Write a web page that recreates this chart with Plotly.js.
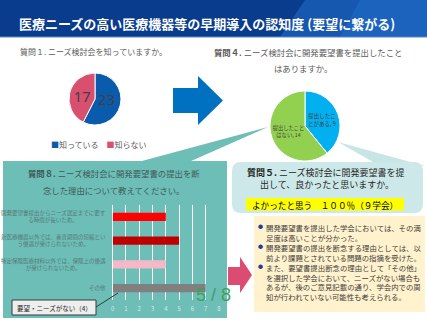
<!DOCTYPE html>
<html><head><meta charset="utf-8">
<script src="https://cdn.plot.ly/plotly-3.0.1.min.js"></script>
<style>html,body{margin:0;padding:0;background:#fff;}#chart{width:427px;height:320px;}</style>
</head><body><div id="chart"></div>
<script>
// ---- data ----
const slideTitle = '医療ニーズの高い医療機器等の早期導入の認知度 (要望に繋がる)';
const q1Title = '質問１. ニーズ検討会を知っていますか。';
const pie1Labels = ['知っている', '知らない'];
const pie1Values = [23, 17];
const pie1Colors = ['#0B5BAD', '#D94F70'];

const q4Title = ['<b>質問４.</b> ニーズ検討会に開発要望書を提出したこと', 'はありますか。'];
const pie2Labels = ['提出したことがある', '提出したことはない'];
const pie2Text = ['提出したこ<br>とがある', '提出したこと<br>はない'];
const pie2Values = [9, 14];
const pie2Colors = ['#00B0F0', '#92D050'];

const q8Title = ['<b>質問８.</b> ニーズ検討会に開発要望書の提出を断', '念した理由について教えてください。'];
const barCategories = ['時間', '審査', '保険', 'その他'];
const barLabels = [
  '開発要望書提出からニーズ選定までに要す<br>る時間が長いため。',
  '新医療機器以外では、審査期間の短縮とい<br>う優遇が受けられないため。',
  '特定保険医療材料以外では、保険上の優遇<br>が受けられないため。',
  'その他'
];
const barValues = [4, 5, 4, 7];
const barColors = ['#FF0000', '#C00000', '#F4B8C8', '#808080'];
const xTicks = [0, 1, 2, 3, 4, 5, 6, 7, 8];
const calloutText = '要望・ニーズがない（4）';

const q5Title = ['<b>質問５.</b> ニーズ検討会に開発要望書を提', '出して、良かったと思いますか。'];
const q5Answer = 'よかったと思う　１００％（９学会）';
const bullets = [
  '開発要望書を提出した学会においては、その満<br>足度は高いことが分かった。',
  '開発要望書の提出を断念する理由としては、以<br>前より課題とされている問題の指摘を受けた。',
  'また、要望書提出断念の理由として「その他」<br>を選択した学会において、ニーズがない場合も<br>あるが、後のご意見記載の通り、学会内での周<br>知が行われていない可能性も考えられる。'
];
const pageNo = '5 / 8';

// ---- helpers ----
const W = 427, H = 320;
const px = x => x / W;
const py = y => 1 - y / H;
const FONT = 'Noto Sans CJK JP';
function poly(pts, fill, extra) {
  const d = pts.map((p, i) => (i ? 'L' : 'M') + px(p[0]).toFixed(4) + ',' + py(p[1]).toFixed(4)).join(' ') + ' Z';
  return Object.assign({type: 'path', xref: 'paper', yref: 'paper', path: d, fillcolor: fill, line: {width: 0}, layer: 'below'}, extra || {});
}
function rect(x0, y0, x1, y1, fill, line, extra) {
  return Object.assign({type: 'rect', xref: 'paper', yref: 'paper', x0: px(x0), x1: px(x1), y0: py(y1), y1: py(y0),
    fillcolor: fill, line: line || {width: 0}, layer: 'below'}, extra || {});
}
function roundRect(x0, y0, x1, y1, r, fill) {
  const P = (x, y) => px(x).toFixed(4) + ',' + py(y).toFixed(4);
  const d = 'M' + P(x0 + r, y0) + ' L' + P(x1 - r, y0) + ' Q' + P(x1, y0) + ' ' + P(x1, y0 + r) +
    ' L' + P(x1, y1 - r) + ' Q' + P(x1, y1) + ' ' + P(x1 - r, y1) +
    ' L' + P(x0 + r, y1) + ' Q' + P(x0, y1) + ' ' + P(x0, y1 - r) +
    ' L' + P(x0, y0 + r) + ' Q' + P(x0, y0) + ' ' + P(x0 + r, y0) + ' Z';
  return {type: 'path', xref: 'paper', yref: 'paper', path: d, fillcolor: fill, line: {width: 0}, layer: 'below'};
}
function txt(text, x, y, size, color, anchor, extra) {
  return Object.assign({text: text, xref: 'paper', yref: 'paper', x: px(x), y: py(y), xanchor: anchor || 'left', yanchor: 'middle',
    showarrow: false, font: {family: FONT, size: size, color: color}}, extra || {});
}

// ---- traces ----
const traces = [
  {type: 'pie', labels: pie1Labels, values: pie1Values, sort: false, direction: 'clockwise', rotation: 0,
   marker: {colors: pie1Colors, line: {color: '#ffffff', width: 1}},
   textinfo: 'value', textposition: 'inside', insidetextorientation: 'horizontal',
   insidetextfont: {family: 'Noto Sans', size: 15, color: '#404040'},
   domain: {x: [px(69), px(121)], y: [py(125), py(73)]}, showlegend: false, hoverinfo: 'label+value'},
  {type: 'pie', labels: pie2Labels, values: pie2Values, text: pie2Text, sort: false, direction: 'clockwise', rotation: 0,
   marker: {colors: pie2Colors, line: {color: '#ffffff', width: 1}},
   texttemplate: '%{text}, %{value}', textposition: 'inside', insidetextorientation: 'horizontal',
   insidetextfont: {family: FONT, size: 5.5, color: '#404040'},
   domain: {x: [px(270), px(340)], y: [py(161), py(91)]}, showlegend: false, hoverinfo: 'label+value'},
  {type: 'bar', orientation: 'h', y: barCategories, x: barValues, width: 0.34,
   marker: {color: barColors}, showlegend: false, hoverinfo: 'x'}
];

// ---- shapes ----
const shapes = [
  rect(0, 0, 427, 37, '#0A3C8E'),
  poly([[305, 0], [427, 0], [427, 37], [280, 37]], '#1657B0'),
  poly([[360, 0], [427, 0], [427, 37], [340, 37]], '#1C63BE'),
  rect(0, 36.5, 427, 37.5, '#5C86C8'),
  poly([[173, 88], [198, 88], [198, 76], [223, 100.5], [198, 125], [198, 113], [173, 113]], '#0070C0'),
  poly([[140, 161.5], [190, 161.5], [268, 127]], '#6DBEB7'),
  rect(3, 161, 227, 318, '#6DBEB7'),
  poly([[338, 142], [380, 166], [425, 166]], '#C8E5E5'),
  roundRect(232, 162, 423, 213, 9, '#CDE8E8'),
  rect(246, 198, 404, 210.5, '#FFFF00'),
  rect(254, 216, 425, 312, '#FFF2CC'),
  poly([[228, 267], [240, 267], [240, 257], [252, 275], [240, 293], [240, 285], [228, 285]], '#DC4C72'),
  {type: 'line', xref: 'paper', yref: 'paper', x0: px(96), y0: py(307), x1: px(118), y1: py(293), line: {color: '#3a3a3a', width: 1}, layer: 'above'},
  rect(12, 300, 96, 315, '#EEEEEE', {color: '#3a3a3a', width: 1}, {layer: 'above'})
];

// ---- annotations ----
const ann = [
  txt('<b>' + slideTitle + '</b>', 17, 23, 13, '#ffffff'),
  txt(q1Title, 18, 52, 8, '#595959'),
  txt('<span style="color:' + pie1Colors[0] + '">■</span>' + pie1Labels[0] + '　<span style="color:' + pie1Colors[1] + '">■</span>' + pie1Labels[1], 49, 144, 8, '#595959'),
  txt(q4Title[0], 212, 52, 8.4, '#595959'),
  txt(q4Title[1], 303, 68, 8.4, '#595959', 'center'),
  txt(q8Title[0], 114, 173, 8.4, '#3E5A58', 'center'),
  txt(q8Title[1], 113, 190, 8.4, '#3E5A58', 'center'),
  txt(q5Title[0], 245, 172, 9, '#262626'),
  txt(q5Title[1], 327, 184, 9, '#262626', 'center'),
  txt(q5Answer, 325, 204.5, 8.6, '#000000', 'center'),
  txt(calloutText, 54, 307.5, 6.5, '#262626', 'center'),
  {text: pageNo, xref: 'paper', yref: 'paper', x: px(213), y: py(295), xanchor: 'center', yanchor: 'middle', showarrow: false,
   font: {family: 'Liberation Sans', size: 18, color: '#3AA35A'}}
];
const bulletTops = [220, 240, 260];
bullets.forEach((b, i) => {
  ann.push(txt('●', 260, bulletTops[i] + 5, 5, '#1F3F9F', 'center'));
  ann.push(Object.assign(txt(b, 264, bulletTops[i], 7.4, '#404040', 'left'), {yanchor: 'top', align: 'left'}));
});
barLabels.forEach((l, i) => {
  ann.push({text: l, xref: 'paper', yref: 'y', x: px(108), y: barCategories[i], xanchor: 'right', yanchor: 'middle',
    align: 'center', showarrow: false, font: {family: FONT, size: 5.5, color: '#557B78'}});
});

const layout = {
  width: W, height: H, margin: {l: 0, r: 0, t: 0, b: 0},
  paper_bgcolor: '#ffffff', plot_bgcolor: 'rgba(0,0,0,0)',
  showlegend: false,
  font: {family: FONT},
  xaxis: {domain: [px(112.7), px(219)], range: [0, 8], tickvals: xTicks, showgrid: true, gridcolor: '#ffffff', gridwidth: 1,
    zeroline: true, zerolinecolor: '#ffffff', zerolinewidth: 1, showline: false, ticks: '', ticklabelstandoff: 4,
    tickfont: {family: FONT, size: 6, color: '#DCE9E7'}, fixedrange: true},
  yaxis: {domain: [py(300), py(205)], type: 'category', categoryarray: barCategories, autorange: 'reversed',
    showticklabels: false, showgrid: false, zeroline: false, showline: false, ticks: '', fixedrange: true},
  shapes: shapes,
  annotations: ann
};
Plotly.newPlot('chart', traces, layout, {staticPlot: true, displayModeBar: false});
</script>
</body></html>
